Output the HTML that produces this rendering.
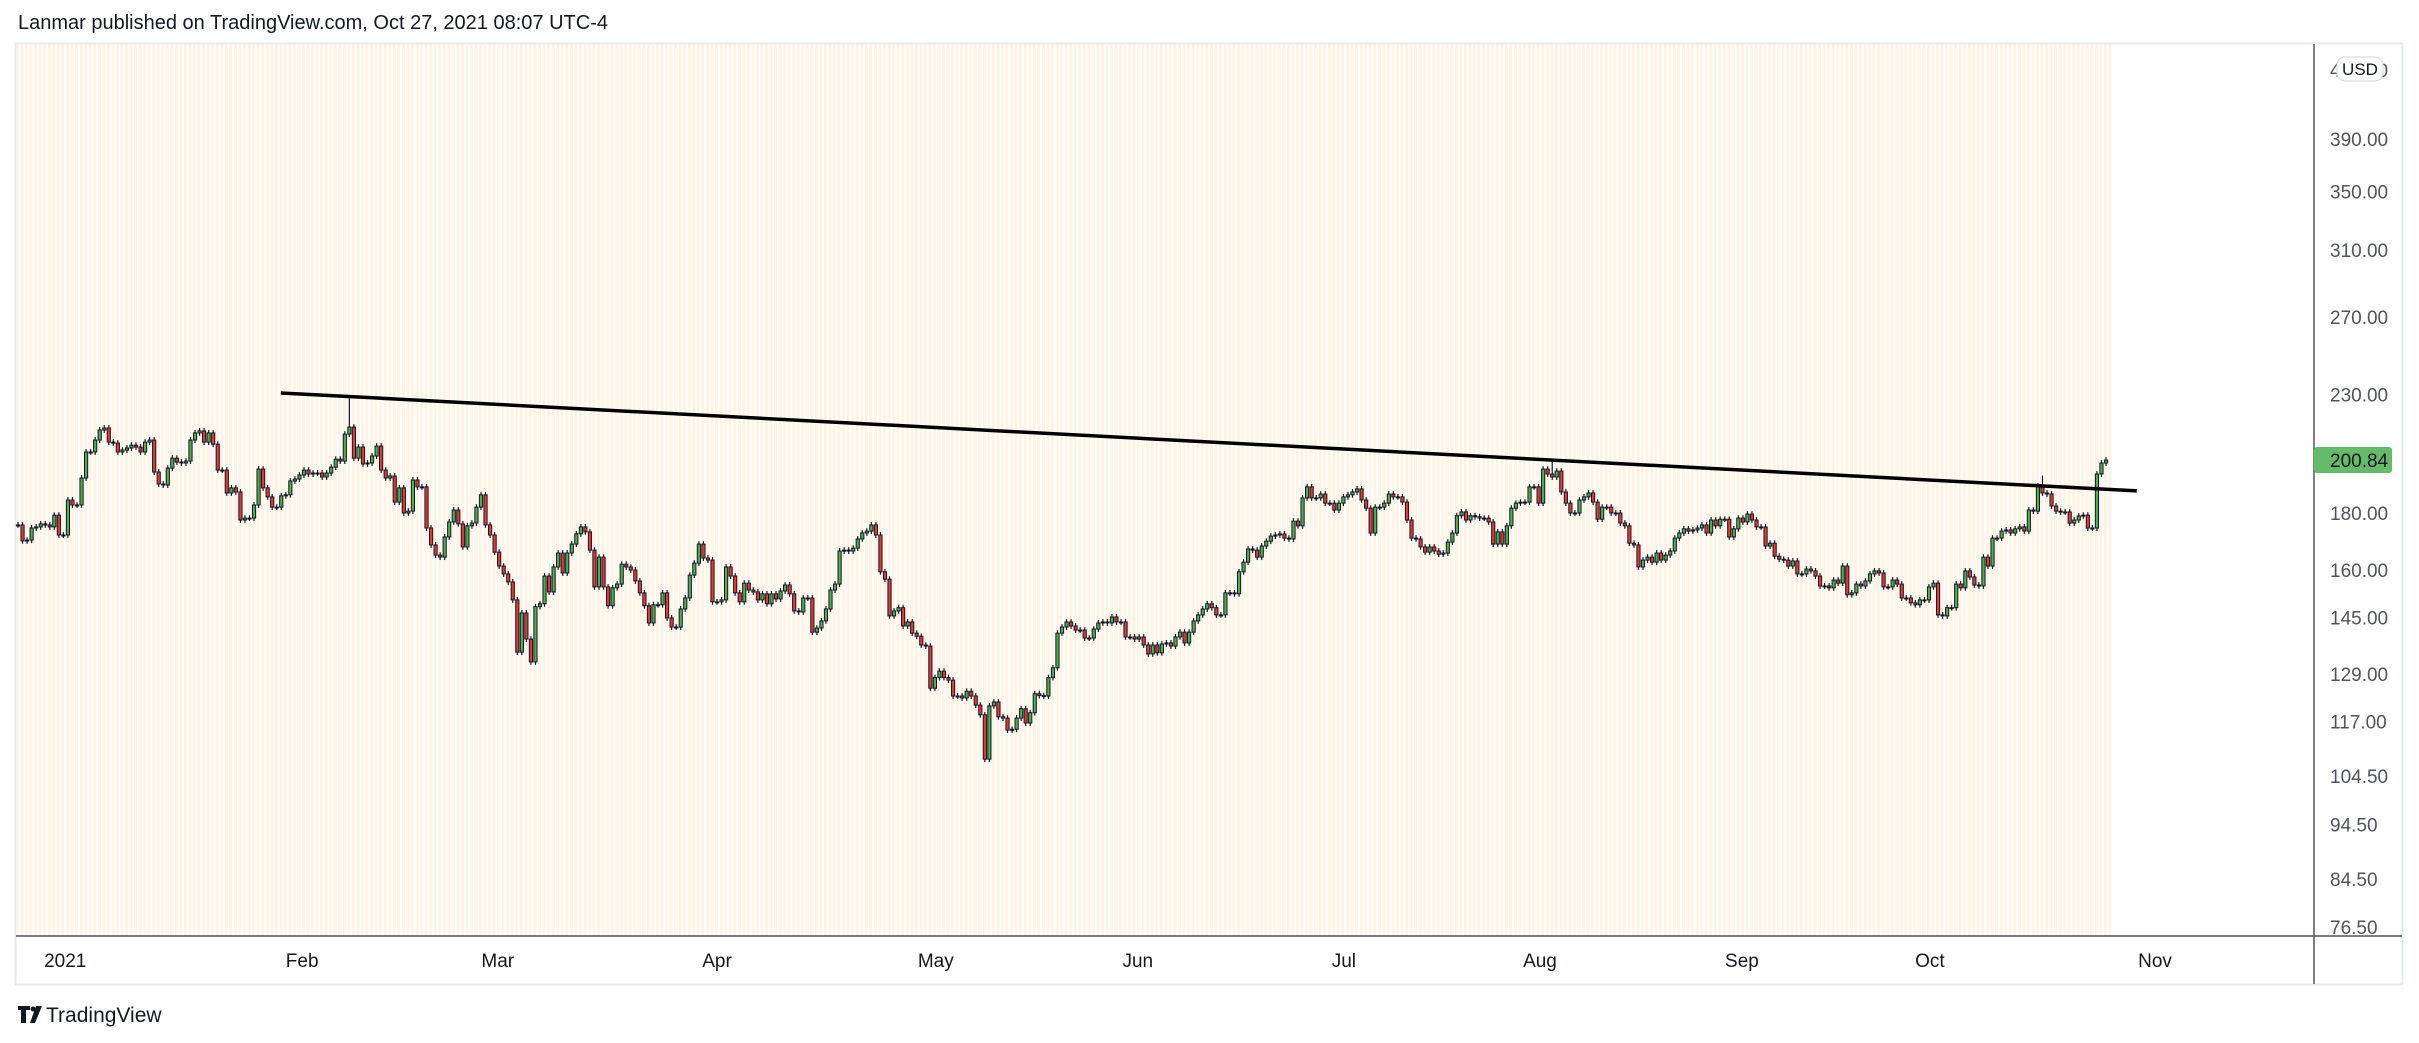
<!DOCTYPE html>
<html><head><meta charset="utf-8"><style>
html,body{margin:0;padding:0;background:#fff;width:2419px;height:1043px;overflow:hidden}
svg{display:block}
text{font-family:"Liberation Sans",sans-serif}
</style></head><body>
<svg id="chart" width="2419" height="1043" viewBox="0 0 2419 1043" xmlns="http://www.w3.org/2000/svg">
<defs>
<pattern id="sess" patternUnits="userSpaceOnUse" x="16" y="0" width="4.539" height="10">
<rect x="0" y="0" width="3.1" height="10" fill="#fff3e5"/>
</pattern>
</defs>
<text x="18" y="29" font-size="20" fill="#131722">Lanmar published on TradingView.com, Oct 27, 2021 08:07 UTC-4</text>
<rect x="15.5" y="43.5" width="2387" height="941" fill="#fff" stroke="#e6e8ef" stroke-width="2"/>
<rect x="17" y="45" width="2096" height="891" fill="url(#sess)"/>
<g id="candles"></g>
<g id="trend"></g>
<line x1="2314" y1="44" x2="2314" y2="984" stroke="#50535e" stroke-width="1.5"/>
<line x1="16" y1="936" x2="2402" y2="936" stroke="#50535e" stroke-width="1.5"/>
<g id="yticks"></g>
<g id="xticks"></g>
<g>
<rect x="2337" y="57" width="46" height="24" rx="8" fill="#fff" stroke="#d1d4dc"/>
<text x="2360" y="75" font-size="17" fill="#131722" text-anchor="middle">USD</text>
</g>
<g id="lastlabel"></g>
<g>
<path d="M18 1006h12v4h-4v13h-5v-13h-3z" fill="#131722"/>
<circle cx="33" cy="1009" r="2.5" fill="#131722"/>
<path d="M36 1006h6l-7 17h-5z" fill="#131722"/>
<text x="46" y="1022" font-size="21" fill="#131722">TradingView</text>
</g>
</svg>
<script>
const closes = [
175.6,169.9,170.2,174.5,174.9,176.0,175.6,174.9,179.2,172.0,172.0,184.9,183.0,183.0,193.5,204.2,204.2,209.3,213.7,214.6,208.4,208.0,204.2,205.0,205.9,207.1,206.3,204.2,208.4,209.3,195.9,191.1,190.7,197.5,201.6,200.0,199.6,200.4,209.3,212.4,213.3,208.4,212.4,207.5,196.7,196.7,187.6,189.6,188.0,177.4,178.1,178.1,183.0,
197.1,189.6,186.1,182.2,182.2,186.5,186.9,192.3,193.1,194.7,196.7,195.1,195.5,195.5,193.9,195.5,197.9,201.2,200.4,211.9,215.0,201.6,206.3,199.2,199.6,202.5,206.7,196.7,193.5,194.3,184.1,189.6,180.0,180.7,192.7,190.0,190.0,174.5,168.5,165.0,
164.3,171.3,176.7,181.1,176.0,167.8,175.3,176.3,182.2,186.9,175.6,172.0,166.0,161.3,158.7,156.1,150.4,135.0,146.4,138.7,132.3,148.3,149.2,158.0,152.9,161.0,165.7,159.0,165.7,168.8,172.4,174.9,173.1,166.7,154.5,164.3,154.5,148.6,154.2,155.4,161.9,161.0,160.0,156.4,152.6,148.6,143.4,148.9,148.9,152.6,144.9,142.2,142.2,147.6,151.0,158.3,162.3,168.8,164.0,163.3,149.8,149.8,150.4,161.0,158.0,152.6,149.8,155.7,153.5,152.9,150.4,152.3,149.2,152.3,150.7,153.2,155.1,152.3,147.0,146.7,151.0,151.0,140.7,141.9,144.0,147.6,153.5,155.4,166.4,166.7,166.4,167.4,170.6,172.7,173.4,175.6,172.0,159.4,157.0,145.5,147.0,148.0,142.5,143.7,140.4,139.5,137.0,136.7,125.3,128.1,129.8,128.1,127.4,123.3,123.3,122.8,124.5,123.3,121.0,118.6,108.2,120.8,121.8,118.1,117.8,114.9,115.1,117.8,120.1,116.6,119.1,
123.9,123.4,123.3,128.1,130.7,140.4,142.2,143.7,142.5,141.3,141.3,139.0,139.0,141.6,143.4,143.7,143.4,145.2,143.7,143.7,139.3,139.3,138.7,139.3,137.0,134.5,137.0,134.8,137.3,137.6,136.7,139.3,140.7,137.6,140.7,144.0,145.8,147.6,149.2,148.0,145.8,145.8,152.6,152.6,152.3,159.4,162.6,167.1,166.7,164.3,168.1,169.8,171.6,172.0,172.4,170.9,170.6,177.0,175.3,185.7,190.0,185.7,185.7,187.2,183.7,183.7,181.1,183.7,186.1,186.9,188.0,189.2,184.9,181.8,172.7,182.2,182.2,183.7,187.2,186.1,186.1,184.1,177.4,170.9,170.6,167.8,166.0,167.8,166.4,165.3,165.7,169.5,172.7,179.0,180.4,177.4,179.0,178.6,178.1,178.1,176.7,168.8,173.1,168.8,175.3,181.8,183.7,184.1,184.1,190.0,190.0,183.7,197.1,195.1,193.9,196.3,188.0,183.7,180.0,180.0,184.9,186.1,187.6,184.1,177.7,182.2,182.2,180.0,180.0,176.3,175.3,169.1,168.5,161.0,
163.3,164.3,162.6,165.7,163.3,165.0,166.4,170.9,172.7,174.2,173.4,173.8,174.5,175.6,172.7,177.4,175.3,177.7,177.7,171.3,174.2,178.1,176.7,179.6,177.4,174.9,174.9,168.1,169.1,164.6,163.6,163.3,161.3,163.0,158.7,158.7,160.3,159.7,158.0,154.8,154.8,154.2,156.7,155.7,161.3,152.0,152.6,155.4,154.8,156.4,158.7,159.7,159.0,154.5,154.5,156.7,155.4,151.0,151.0,149.5,148.9,150.4,150.4,154.5,155.7,145.8,145.5,148.0,148.0,155.4,154.2,159.7,157.7,155.1,154.8,164.3,161.3,170.9,170.9,173.4,173.8,172.7,174.2,174.9,173.4,181.1,180.7,190.4,187.6,187.2,182.6,180.7,180.4,180.4,176.3,177.4,178.9,179.2,174.5,174.5,195.1,199.6,200.84
];
const notableHighIdx = [73, 338, 446];
const notableHighVal = [229.0, 201.0, 194.5];
const priceTicks = [450, 390, 350, 310, 270, 230, 180, 160, 145, 129, 117, 104.5, 94.5, 84.5, 76.5];
const monthLabels = ["2021","Feb","Mar","Apr","May","Jun","Jul","Aug","Sep","Oct","Nov"];
const monthIdx = [10.4, 62.6, 105.7, 154, 202.2, 246.7, 292.1, 335.3, 379.8, 421.2, 470.8];
const trendIdx = [57.9, 466.8];
const trendPrice = [230.7, 188.4];
const lastPrice = 200.84;

const NS = "http://www.w3.org/2000/svg";
const X0 = 18, X1 = 2106;
const step = (X1 - X0) / (closes.length - 1);
function xs(i){ return X0 + i*step; }
function ys(p){ return 139 + (Math.log(390) - Math.log(p)) * 483.7; }
function mk(tag, attrs, parent){ const e=document.createElementNS(NS,tag); for(const k in attrs) e.setAttribute(k, attrs[k]); parent.appendChild(e); return e; }

const cg = document.getElementById("candles");
for (let i=0;i<closes.length;i++){
  const o = i===0 ? closes[0] : closes[i-1];
  const c = closes[i];
  let hi = Math.max(o,c)*1.006, lo = Math.min(o,c)*0.994;
  const k = notableHighIdx.indexOf(i);
  if (k>=0) hi = Math.max(hi, notableHighVal[k]);
  const x = xs(i);
  const g = mk("g", {}, cg);
  
  
  mk("line", {x1:x, x2:x, y1:ys(hi), y2:ys(lo), stroke:"#131722", "stroke-width":1.2}, g);
  const top = ys(Math.max(o,c)), bot = ys(Math.min(o,c));
  mk("rect", {x:x-1.6, y:top, width:3.2, height:Math.max(bot-top,1), fill: c>=o ? "#4caf50" : "#e53935", stroke:"#131722", "stroke-width":1}, g);
}

const tg = document.getElementById("trend");
const tl = mk("line", {x1:xs(trendIdx[0]), y1:ys(trendPrice[0]), x2:xs(trendIdx[1]), y2:ys(trendPrice[1]), stroke:"#000", "stroke-width":3.5}, tg);



const yg = document.getElementById("yticks");
priceTicks.forEach(p=>{
  const t = mk("text", {x:2330, y:ys(p)+7, "font-size":19, fill:"#50535e"}, yg);
  
  
  t.textContent = p.toFixed(2);
});
const xg = document.getElementById("xticks");
monthLabels.forEach((m,i)=>{
  const t = mk("text", {x:xs(monthIdx[i]), y:967, "font-size":19, fill:"#131722", "text-anchor":"middle"}, xg);
  
  
  t.textContent = m;
});
const lg = document.getElementById("lastlabel");
const ly = ys(lastPrice);
const lr = mk("rect", {x:2314, y:ly-13, width:78, height:26, rx:3, fill:"#66bb6a"}, lg);


const lt = mk("text", {x:2330, y:ly+7, "font-size":19, fill:"#131722"}, lg);


lt.textContent = lastPrice.toFixed(2);
</script>
</body></html>
